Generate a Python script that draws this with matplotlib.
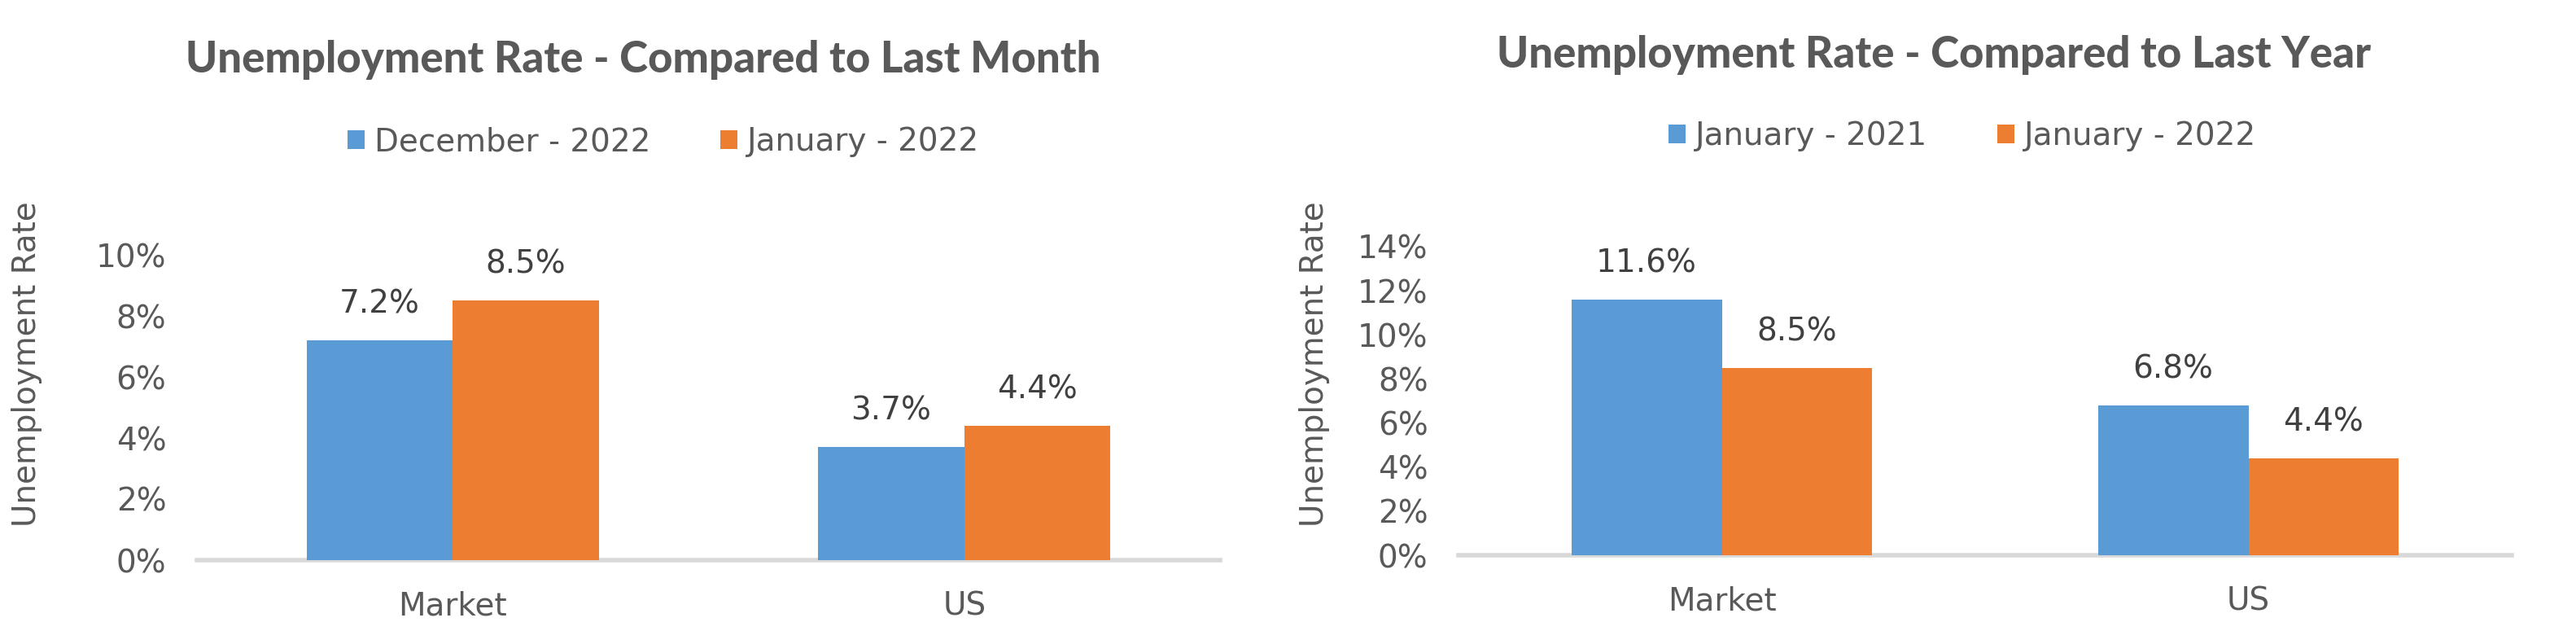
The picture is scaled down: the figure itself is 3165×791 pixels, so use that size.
import numpy as np
import matplotlib
matplotlib.use("Agg")
import matplotlib.pyplot as plt
from matplotlib.ticker import FuncFormatter

plt.rcParams['font.family'] = ['DejaVu Sans']

# data
categories = ['Market', 'US']

month_series = ['December - 2022', 'January - 2022']
month_values = [[7.2, 3.7], [8.5, 4.4]]

year_series = ['January - 2021', 'January - 2022']
year_values = [[11.6, 6.8], [8.5, 4.4]]

blue = '#5B9BD5'
orange = '#ED7D31'
text_grey = '#595959'
label_grey = '#404040'
axis_grey = '#D9D9D9'

W, H = 3165, 791
fig = plt.figure(figsize=(W / 100, H / 100), dpi=100)


def px_axes(x0, x1, y_base, y_top):
    return fig.add_axes([x0 / W, (H - y_base) / H, (x1 - x0) / W, (y_base - y_top) / H])


def draw_panel(ax, series, values, ymax, title, title_xy, legend_xy, ylabel_xy):
    x = np.arange(len(categories))
    w = 1 / 3.5  # excel gap width 150%
    colors = [blue, orange]
    handles = []
    for i, (name, vals) in enumerate(zip(series, values)):
        offs = (i - 0.5) * w
        bars = ax.bar(x + offs, vals, w, color=colors[i], label=name, zorder=2)
        handles.append(bars)
        for xi, v in zip(x + offs, vals):
            ax.annotate(f'{v:.1f}%', (xi, v), xytext=(0, 32), textcoords='offset points',
                        ha='center', va='center', fontsize=28, color=label_grey)

    ax.set_xlim(-0.5, len(categories) - 0.5)
    ax.set_ylim(0, ymax)
    ax.set_yticks(np.arange(0, ymax + 0.1, 2))
    ax.yaxis.set_major_formatter(FuncFormatter(lambda v, p: f'{v:.0f}%'))
    ax.set_xticks(x)
    ax.set_xticklabels(categories)
    ax.tick_params(axis='both', length=0, labelsize=28, colors=text_grey)
    ax.tick_params(axis='y', pad=27)
    ax.tick_params(axis='x', pad=27)

    for s in ['top', 'right', 'left']:
        ax.spines[s].set_visible(False)
    ax.spines['bottom'].set_color(axis_grey)
    ax.spines['bottom'].set_linewidth(4)
    ax.spines['bottom'].set_zorder(1)

    ax.set_ylabel('Unemployment Rate', fontsize=28, color=text_grey)
    ax.yaxis.set_label_coords(ylabel_xy[0] / W, 1 - ylabel_xy[1] / H,
                              transform=fig.transFigure)

    fig.text(title_xy[0] / W, 1 - title_xy[1] / H, title, ha='center', va='center',
             fontsize=38, fontweight=900, family=['Lato', 'DejaVu Sans'], color=text_grey)

    fig.legend(handles=handles, labels=series, loc='center',
               bbox_to_anchor=(legend_xy[0] / W, 1 - legend_xy[1] / H), ncol=2,
               frameon=False, fontsize=28, labelcolor=text_grey,
               handlelength=0.55, handleheight=0.55, handletextpad=0.3,
               columnspacing=2.2)


ax1 = px_axes(242, 1499, 688, 313)
draw_panel(ax1, month_series, month_values, 10,
           'Unemployment Rate - Compared to Last Month', (790, 73), (815, 174), (52, 447))

ax2 = px_axes(1792, 3086, 682, 303)
draw_panel(ax2, year_series, year_values, 14,
           'Unemployment Rate - Compared to Last Year', (2376, 67), (2411, 167), (1634, 447))

fig.savefig('out.png', dpi=100, facecolor='white')
